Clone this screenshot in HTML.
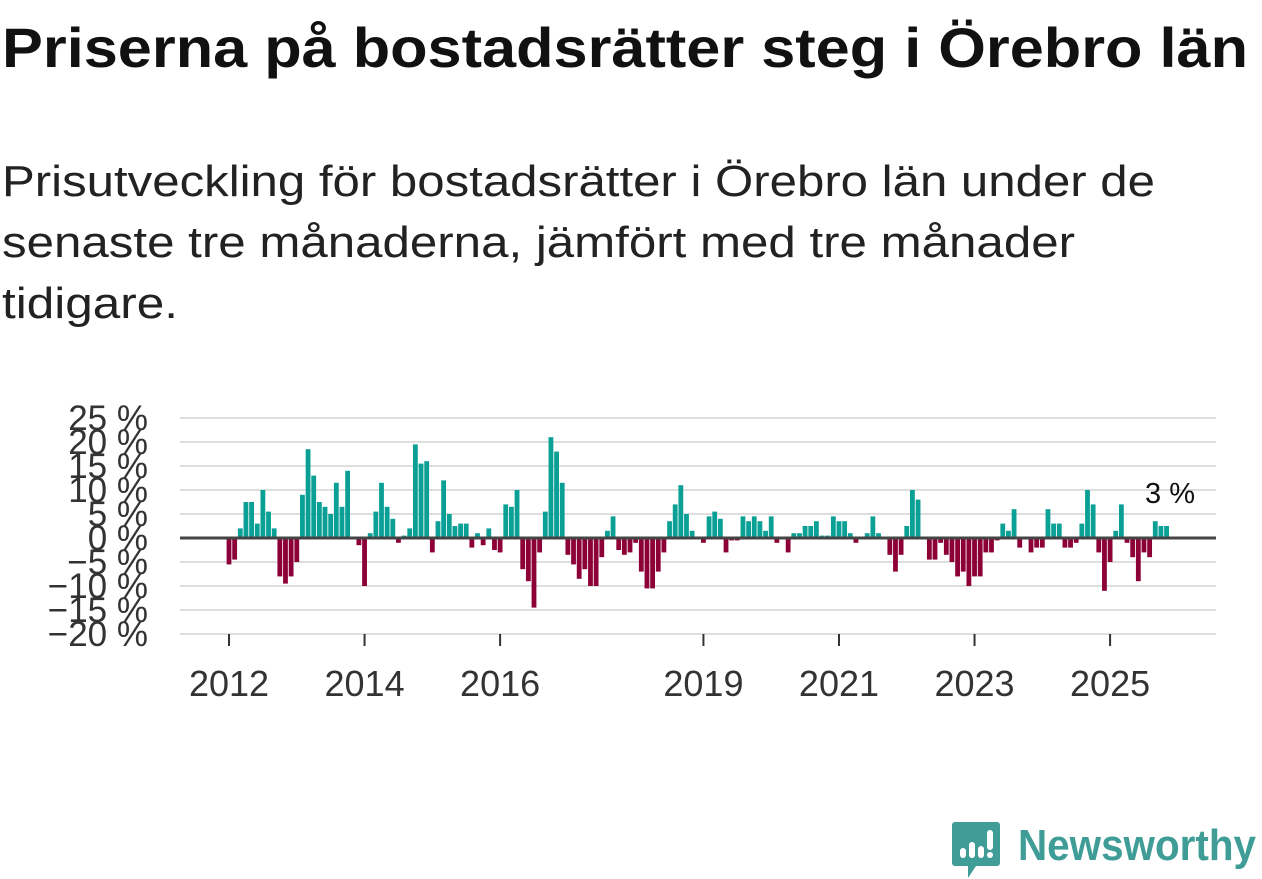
<!DOCTYPE html>
<html><head><meta charset="utf-8"><style>
body{margin:0;width:1262px;height:879px;background:#fff;overflow:hidden;font-family:"Liberation Sans",sans-serif;color:#111}
svg{position:absolute;left:0;top:0}
</style></head><body>
<svg width="1262" height="340">
<text x="2" y="67" font-size="56" font-weight="bold" fill="#111" textLength="1246" lengthAdjust="spacingAndGlyphs" font-family="Liberation Sans, sans-serif">Priserna på bostadsrätter steg i Örebro län</text>
<g font-size="44" fill="#222" font-family="Liberation Sans, sans-serif">
<text x="2" y="196" textLength="1153" lengthAdjust="spacingAndGlyphs">Prisutveckling för bostadsrätter i Örebro län under de</text>
<text x="2" y="257" textLength="1073" lengthAdjust="spacingAndGlyphs">senaste tre månaderna, jämfört med tre månader</text>
<text x="2" y="318" textLength="176" lengthAdjust="spacingAndGlyphs">tidigare.</text>
</g>
</svg>
<svg id="chart" width="1262" height="879"></svg>
<div style="position:absolute;left:952px;top:820px;width:310px;height:59px">
<svg width="310" height="59" style="left:0;top:0"><path d="M3 2h42a3 3 0 0 1 3 3v38a3 3 0 0 1-3 3H24l-8 12v-12H3a3 3 0 0 1-3-3V5a3 3 0 0 1 3-3z" fill="#3f9c96"/><rect x="8" y="28" width="6" height="10" rx="3" fill="#fff"/><rect x="17" y="22" width="6" height="16" rx="3" fill="#fff"/><rect x="26" y="26" width="6" height="12" rx="3" fill="#fff"/><rect x="35" y="10" width="6" height="20" rx="3" fill="#fff"/><circle cx="38" cy="35" r="3" fill="#fff"/>
<text x="66" y="40" font-size="44" font-weight="bold" fill="#3f9c96" textLength="238" lengthAdjust="spacingAndGlyphs" font-family="Liberation Sans, sans-serif">Newsworthy</text></svg>
</div>
<script>
const values=[-5.5,-4.5,2,7.5,7.5,3,10,5.5,2,-8,-9.5,-8,-5,9,18.5,13,7.5,6.5,5,11.5,6.5,14,0,-1.5,-10,1,5.5,11.5,6.5,4,-1,0.5,2,19.5,15.5,16,-3,3.5,12,5,2.5,3,3,-2,1,-1.5,2,-2.5,-3,7,6.5,10,-6.5,-9,-14.5,-3,5.5,21,18,11.5,-3.5,-5.5,-8.5,-6.5,-10,-10,-4,1.5,4.5,-2.5,-3.5,-3,-1,-7,-10.5,-10.5,-7,-3,3.5,7,11,5,1.5,0,-1,4.5,5.5,4,-3,-0.5,-0.5,4.5,3.5,4.5,3.5,1.5,4.5,-1,0,-3,1,1,2.5,2.5,3.5,0.5,0.5,
4.5,3.5,3.5,1,-1,0,1,4.5,1,0,-3.5,-7,-3.5,2.5,10,8,0,-4.5,-4.5,-1,-3.5,-5,-8,-7,-10,-8,-8,-3,-3,-0.5,3,1.5,6,-2,0,-3,-2,-2,6,3,3,-2,-2,-1,3,10,7,-3,-11,-5,1.5,7,-1,-4,-9,-3,-4,3.5,2.5,2.5];
const startYear=2012;
const yTicks=[25,20,15,10,5,0,-5,-10,-15,-20];
const xTickYears=[2012,2014,2016,2019,2021,2023,2025];
const lastLabel="3 %";
const svg=document.getElementById('chart');
const NS='http://www.w3.org/2000/svg';
const x0=229,step=5.648,zeroY=538,pxPer=4.8;
const xs=i=>x0+i*step;
const ys=v=>zeroY-v*pxPer;
function mk(t,a){const e=document.createElementNS(NS,t);for(const k in a)e.setAttribute(k,a[k]);svg.appendChild(e);return e;}
yTicks.forEach(t=>{
 const l=mk('line',{x1:180,x2:1216,y1:ys(t),y2:ys(t),stroke:'#dedede','stroke-width':2});
 
 
 const tx=mk('text',{x:148,y:ys(t)+12,'text-anchor':'end','font-size':35,fill:'#333','font-family':'Liberation Sans, sans-serif'});
 tx.textContent=(t<0?'\u2212'+(-t):t)+' %';
 
 
});
values.forEach((v,i)=>{
 const y=ys(Math.max(v,0)),h=Math.abs(v)*pxPer;
 const r=mk('rect',{x:xs(i)-2.4,y:y,width:4.8,height:h,fill:v>=0?'#0aa095':'#8c0037'});
 
 
});
const z=mk('line',{x1:180,x2:1216,y1:zeroY,y2:zeroY,stroke:'#444','stroke-width':3});


xTickYears.forEach(yr=>{
 const x=xs((yr-startYear)*12);
 const tk=mk('line',{x1:x,x2:x,y1:634,y2:646,stroke:'#333','stroke-width':2});
 
 
 const tx=mk('text',{x:x,y:696,'text-anchor':'middle','font-size':36,fill:'#333','font-family':'Liberation Sans, sans-serif'});
 tx.textContent=yr;
 
 
});
const lb=mk('text',{x:1195,y:503,'text-anchor':'end','font-size':29,fill:'#111','font-family':'Liberation Sans, sans-serif'});
lb.textContent=lastLabel;


</script>
</body></html>
